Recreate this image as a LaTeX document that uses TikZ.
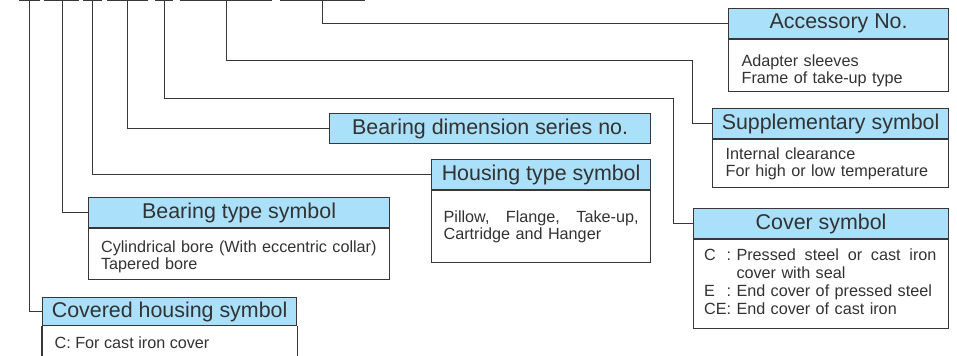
\documentclass[tikz,border=0pt]{standalone}
\usepackage{fontspec}
\setmainfont{Liberation Sans}
\usepackage{xcolor}
\usetikzlibrary{positioning}
\definecolor{hdrblue}{RGB}{170,224,250}
\definecolor{linegray}{RGB}{55,55,55}
\definecolor{txtgray}{RGB}{50,50,50}

\begin{document}
\begin{tikzpicture}[
    x=0.5pt, y=-0.5pt,
    hdr/.style={rectangle, draw=linegray, line width=0.6pt, fill=hdrblue, anchor=north west, inner sep=0pt, minimum width=#1, minimum height=15pt, text=txtgray, font=\fontsize{10.7}{12}\selectfont},
    body/.style={rectangle, draw=linegray, line width=0.6pt, inner xsep=6pt, inner ysep=0pt, align=left, text=txtgray, font=\fontsize{8.1}{8.5}\selectfont},
    link/.style={draw=linegray, line width=0.5pt}
]
\useasboundingbox (0,0) rectangle (957,355);

% code marks
\foreach \a/\b in {19/40,44/79,83/102,107/148,155/173,180/272,280/365}
    \draw[link] (\a,0.5) -- (\b,0.5);
\foreach \n/\x in {1/29,2/62,3/92,4/127,5/164,6/226,7/322}
    \coordinate (m\n) at (\x,0);

\node[hdr=110pt] (acc) at (728,8) {Accessory No.};
\node[body, below=0pt of acc, minimum width=110pt, text width=97pt, minimum height=26pt] (accbody) {\rule{0pt}{11pt}Adapter sleeves\\Frame of take-up type};

\node[hdr=118pt] (sup) at (712,108) {Supplementary symbol};
\node[body, below=0pt of sup, minimum width=118pt, text width=105pt, minimum height=24pt] (supbody) {Internal clearance\\For high or low temperature};

\node[hdr=160.5pt] (dim) at (329,113) {Bearing dimension series no.};

\node[hdr=109.5pt] (hou) at (431,159) {Housing type symbol};
\node[body, below=0pt of hou, minimum width=109.5pt, text width=97.5pt, minimum height=36pt] (houbody) {Pillow,\hfill Flange,\hfill Take-up,\\Cartridge and Hanger};

\node[hdr=150.5pt] (btype) at (88,197) {Bearing type symbol};
\node[body, below=0pt of btype, minimum width=150.5pt, text width=138pt, minimum height=25.5pt] (btypebody) {\rule{0pt}{8pt}Cylindrical bore (With eccentric collar)\\Tapered bore};

\node[hdr=127.5pt] (cov) at (693,208) {Cover symbol};
\node[body, below=0pt of cov, minimum width=127.5pt, inner xsep=5pt, text width=117pt, minimum height=44.5pt, font=\fontsize{8.1}{9}\selectfont] (covbody) {%
    \begin{tabular}{@{}l@{:\ }p{100pt}@{}}
    C & Pressed\hfill steel\hfill or\hfill cast\hfill iron\newline cover with seal\\
    E & End cover of pressed steel\\
    CE & End cover of cast iron
    \end{tabular}};

\node[hdr=127pt, minimum height=14pt] (chs) at (42,297) {Covered housing symbol};
\draw[draw=linegray, line width=0.6pt] (chs.south west) -- ++(0,40) (chs.south east) -- ++(0,40);
\node[anchor=west, text=txtgray, font=\fontsize{8.1}{8.5}\selectfont] (chsbody) at (47.5,343) {C: For cast iron cover};

% leader lines
\draw[link] (m7) |- (acc.west);
\draw[link] (m6) |- (692,60) |- (sup.west);
\draw[link] (m5) |- (673,98) |- (cov.west);
\draw[link] (m4) |- (dim.west);
\draw[link] (m3) |- (hou.west);
\draw[link] (m2) |- (btype.west);
\draw[link] (m1) |- (chs.west);
\end{tikzpicture}
\end{document}
